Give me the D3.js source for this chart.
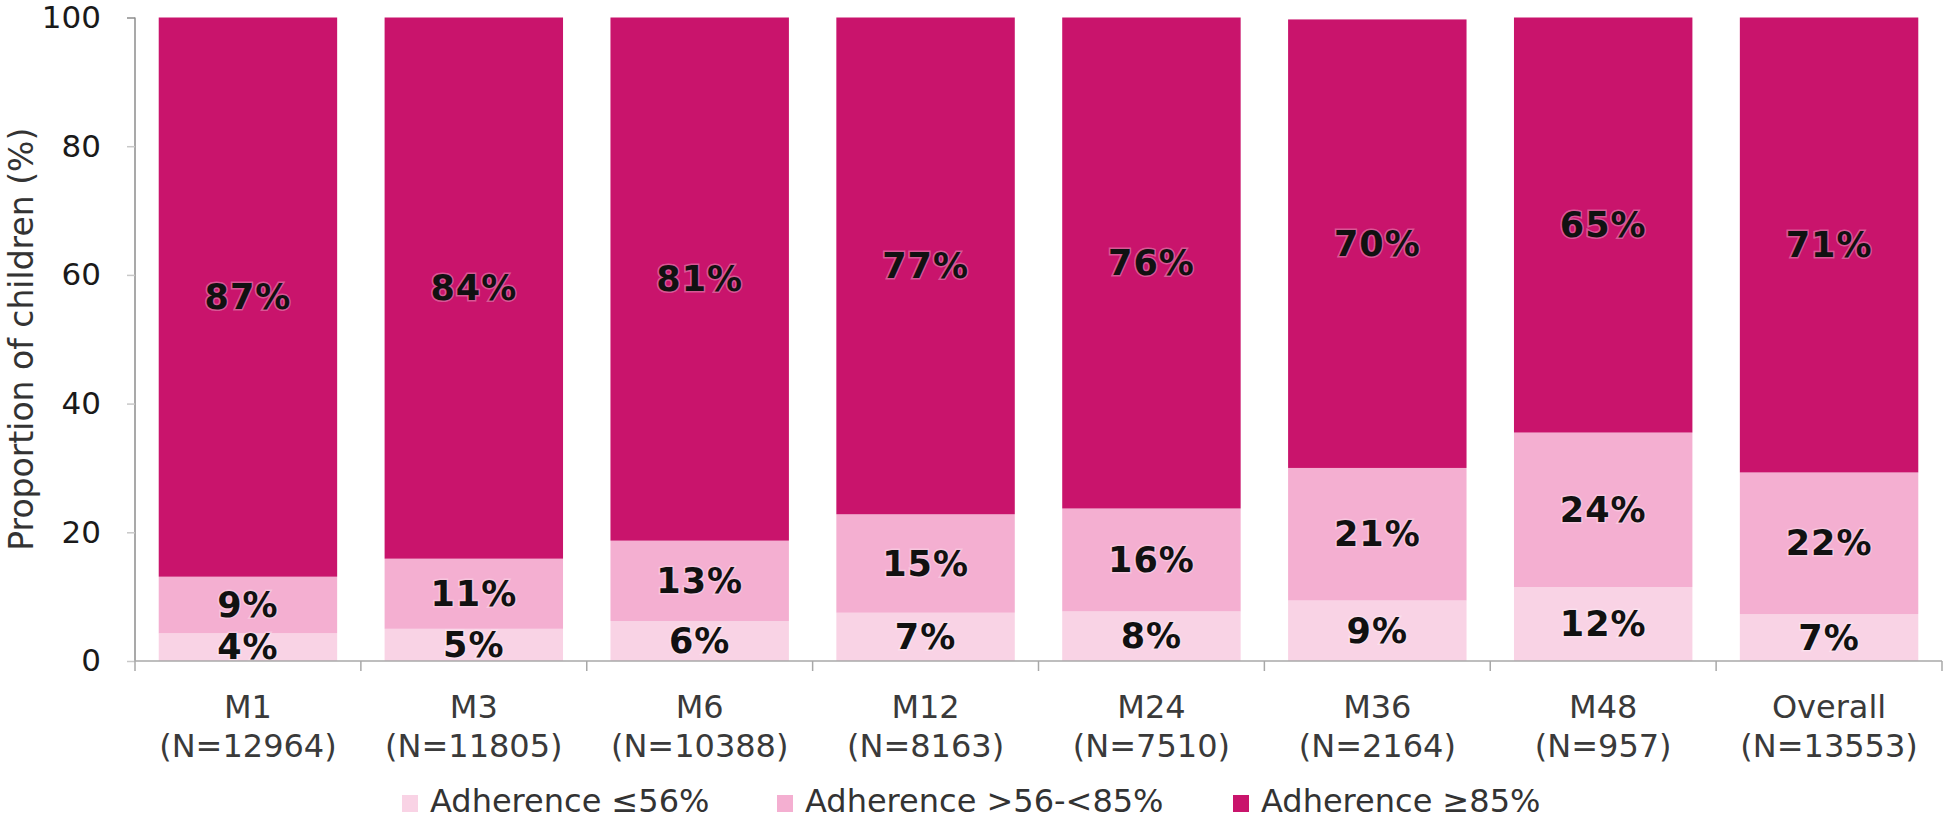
<!DOCTYPE html>
<html>
<head>
<meta charset="utf-8">
<script src="https://cdn.jsdelivr.net/npm/d3@7"></script>
<style>
  html, body { margin: 0; padding: 0; background: #fff; }
  svg { display: block; }
</style>
</head>
<body>
<svg id="chart" width="1946" height="819"></svg>
<script>
const categories = ["M1", "M3", "M6", "M12", "M24", "M36", "M48", "Overall"];
const nLabels = ["(N=12964)", "(N=11805)", "(N=10388)", "(N=8163)", "(N=7510)", "(N=2164)", "(N=957)", "(N=13553)"];
const seriesNames = ["Adherence \u226456%", "Adherence >56-<85%", "Adherence \u226585%"];
const lowValues  = [4.3, 5.0, 6.2, 7.5, 7.7, 9.4, 11.5, 7.3];
const midValues  = [8.8, 10.9, 12.5, 15.3, 16.0, 20.6, 24.0, 22.0];
const highValues = [86.9, 84.1, 81.3, 77.2, 76.3, 69.7, 64.5, 70.7];
const lowLabels  = ["4%", "5%", "6%", "7%", "8%", "9%", "12%", "7%"];
const midLabels  = ["9%", "11%", "13%", "15%", "16%", "21%", "24%", "22%"];
const highLabels = ["87%", "84%", "81%", "77%", "76%", "70%", "65%", "71%"];
const yTicks = [0, 20, 40, 60, 80, 100];
const colors = ["#f9d3e5", "#f4afd1", "#c9146c"];

const svg = d3.select("#chart");
const margin = {left: 135, right: 4, top: 17.5, bottom: 158};
const W = 1946, H = 819;
const x = d3.scaleBand().domain(categories).range([margin.left, W - margin.right]).paddingInner(0.21).paddingOuter(0.105);
const y = d3.scaleLinear().domain([0, 100]).range([H - margin.bottom, margin.top]);

const font = "'DejaVu Sans', Verdana, sans-serif";

const rows = categories.map((c, i) => ({cat: c, low: lowValues[i], mid: midValues[i], high: highValues[i]}));
const keys = ["low", "mid", "high"];
const labelsByKey = {low: lowLabels, mid: midLabels, high: highLabels};
const stack = d3.stack().keys(keys)(rows);

// bars
stack.forEach((layer, li) => {
  svg.append("g").selectAll("rect").data(layer).join("rect")
    .attr("x", d => x(d.data.cat))
    .attr("width", x.bandwidth())
    .attr("y", d => y(d[1]))
    .attr("height", d => y(d[0]) - y(d[1]))
    .attr("fill", colors[li]);
});

// value labels
stack.forEach((layer, li) => {
  const labs = labelsByKey[keys[li]];
  svg.append("g").selectAll("text").data(layer).join("text")
    .attr("x", d => x(d.data.cat) + x.bandwidth() / 2)
    .attr("y", d => y((d[0] + d[1]) / 2))
    .attr("text-anchor", "middle")
    .attr("dominant-baseline", "central")
    .attr("font-family", font)
    .attr("font-weight", "bold")
    .attr("font-size", 35)
    .attr("letter-spacing", 1)
    .attr("fill", "#111")
    .attr("stroke", "rgba(255,255,255,0.3)")
    .attr("stroke-width", 3)
    .attr("paint-order", "stroke")
    .text((d, i) => labs[i]);
});

// y axis
const yAxis = svg.append("g").attr("transform", `translate(${margin.left},0)`)
  .call(d3.axisLeft(y).tickValues(yTicks).tickSize(8).tickPadding(26));
yAxis.select(".domain").attr("stroke", "#8c8c8c").attr("stroke-width", 1.5).attr("d", `M0,${y(100)}V${y(0)}`);
yAxis.selectAll(".tick line").attr("stroke", "#c8c8c8").attr("stroke-width", 1.5);
yAxis.selectAll(".tick text").attr("font-family", font).attr("font-size", 31).attr("fill", "#1a1a1a");
yAxis.selectAll(".tick").filter(d => d === 100).select("line").attr("stroke", "#8c8c8c");

// x axis
const xAxisG = svg.append("g").attr("transform", `translate(0,${y(0)})`);
xAxisG.append("line").attr("x1", margin.left).attr("x2", W - margin.right)
  .attr("y1", 0).attr("y2", 0).attr("stroke", "#a8a8a8").attr("stroke-width", 1.5);
const boundaries = d3.range(categories.length + 1).map(i => margin.left + i * (W - margin.right - margin.left) / categories.length);
xAxisG.selectAll("line.tk").data(boundaries).join("line").attr("class", "tk")
  .attr("x1", d => d).attr("x2", d => d).attr("y1", 0).attr("y2", 10)
  .attr("stroke", "#a8a8a8").attr("stroke-width", 1.5);
const xl = xAxisG.selectAll("text.xl").data(categories).join("text").attr("class", "xl")
  .attr("x", d => x(d) + x.bandwidth() / 2)
  .attr("text-anchor", "middle")
  .attr("font-family", font)
  .attr("font-size", 32)
  .attr("fill", "#3a3a3a");
xl.append("tspan").attr("x", d => x(d) + x.bandwidth() / 2).attr("y", 57).text(d => d);
xl.append("tspan").attr("x", d => x(d) + x.bandwidth() / 2).attr("y", 96).text((d, i) => nLabels[i]);

// y title
svg.append("text")
  .attr("transform", `translate(33,${(y(0) + y(100)) / 2}) rotate(-90)`)
  .attr("text-anchor", "middle")
  .attr("font-family", font)
  .attr("font-size", 33)
  .attr("fill", "#333")
  .text("Proportion of children (%)");

// legend
const legendX = [402, 777, 1233];
const lg = svg.append("g");
seriesNames.forEach((name, i) => {
  lg.append("rect").attr("x", legendX[i]).attr("y", 795).attr("width", 16).attr("height", 17).attr("fill", colors[i]);
  lg.append("text").attr("x", legendX[i] + 28).attr("y", 812)
    .attr("font-family", font).attr("font-size", 32).attr("fill", "#333")
    .text(name);
});
</script>
</body>
</html>
